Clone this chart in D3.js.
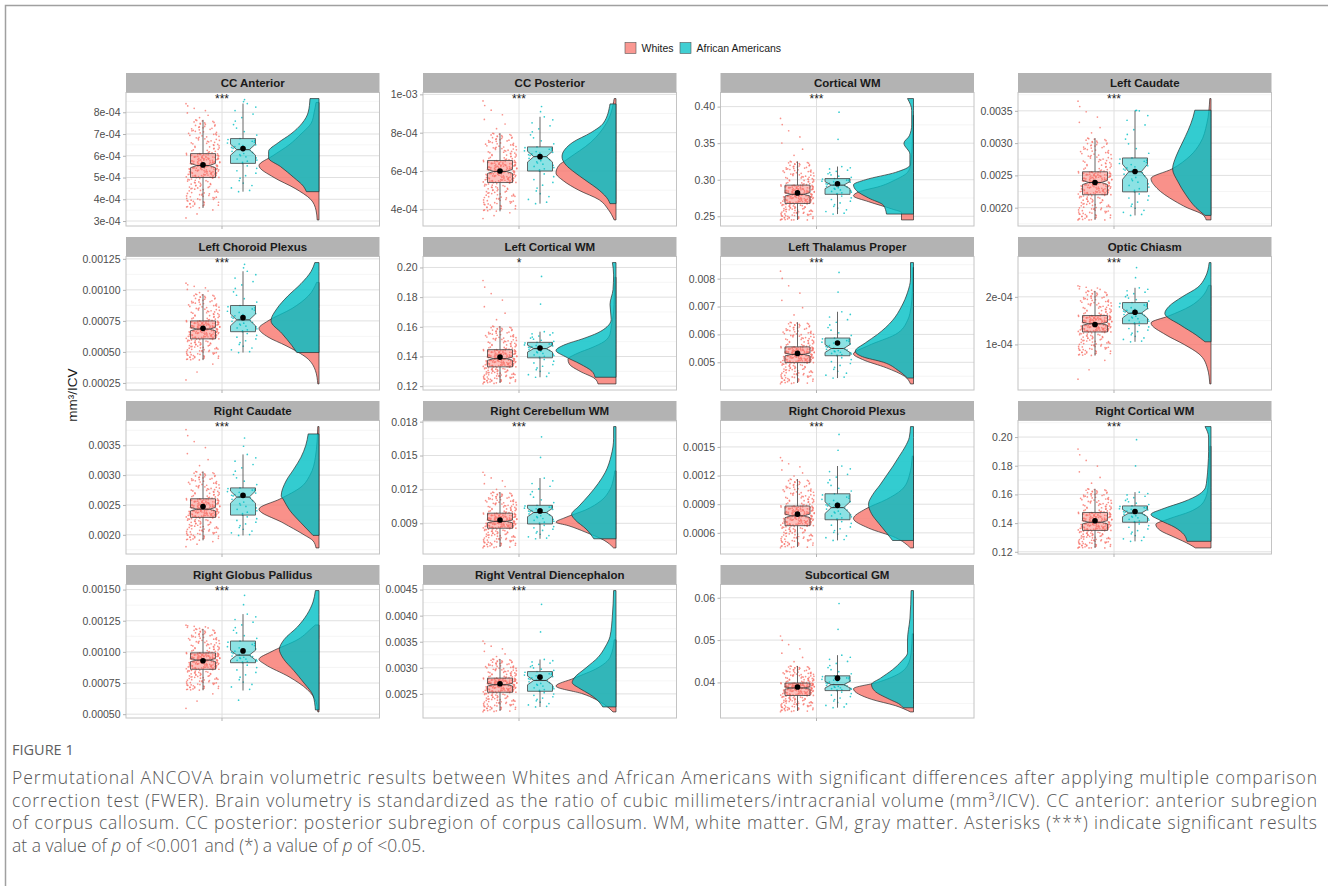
<!DOCTYPE html>
<html>
<head>
<meta charset="utf-8">
<script src="https://cdn.jsdelivr.net/npm/d3@7"></script>
<style>
  body { margin: 0; background: #fff; }
  svg { display: block; font-family: "Liberation Sans", Arial, sans-serif; }
</style>
</head>
<body>
<svg id="fig" width="1328" height="886"></svg>
<script>
// ---- data ----
var regions = ["CC Anterior", "CC Posterior", "Cortical WM", "Left Caudate",
  "Left Choroid Plexus", "Left Cortical WM", "Left Thalamus Proper", "Optic Chiasm",
  "Right Caudate", "Right Cerebellum WM", "Right Choroid Plexus", "Right Cortical WM",
  "Right Globus Pallidus", "Right Ventral Diencephalon", "Subcortical GM"];

var stars = ["***", "***", "***", "***", "***", "*", "***", "***",
  "***", "***", "***", "***", "***", "***", "***"];

var tickLabels = [
  ["3e-04", "4e-04", "5e-04", "6e-04", "7e-04", "8e-04"],
  ["4e-04", "6e-04", "8e-04", "1e-03"],
  ["0.25", "0.30", "0.35", "0.40"],
  ["0.0020", "0.0025", "0.0030", "0.0035"],
  ["0.00025", "0.00050", "0.00075", "0.00100", "0.00125"],
  ["0.12", "0.14", "0.16", "0.18", "0.20"],
  ["0.005", "0.006", "0.007", "0.008"],
  ["1e-04", "2e-04"],
  ["0.0020", "0.0025", "0.0030", "0.0035"],
  ["0.009", "0.012", "0.015", "0.018"],
  ["0.0006", "0.0009", "0.0012", "0.0015"],
  ["0.12", "0.14", "0.16", "0.18", "0.20"],
  ["0.00050", "0.00075", "0.00100", "0.00125", "0.00150"],
  ["0.0025", "0.0030", "0.0035", "0.0040", "0.0045"],
  ["0.04", "0.05", "0.06"]
];

var groups = ["Whites", "African Americans"];
var groupN = [300, 50];

// [lower whisker, Q1, median, Q3, upper whisker, mean, min, max]
var whitesStats = [
  [3.6e-4, 5.0e-4, 5.55e-4, 6.1e-4, 7.65e-4, 5.58e-4, 3.05e-4, 8.45e-4],
  [3.9e-4, 5.4e-4, 5.98e-4, 6.55e-4, 7.97e-4, 6.0e-4, 3.45e-4, 9.78e-4],
  [0.245, 0.2675, 0.280, 0.2926, 0.325, 0.282, 0.245, 0.388],
  [0.00181, 0.0022, 0.00239, 0.002556, 0.003077, 0.00239, 0.00181, 0.00369],
  [0.000434, 0.000605, 0.000684, 0.00075, 0.000966, 0.00069, 0.000242, 0.00106],
  [0.1222, 0.133, 0.1385, 0.1446, 0.1604, 0.1396, 0.1215, 0.1934],
  [0.004259, 0.004988, 0.005282, 0.005553, 0.006435, 0.005318, 0.004224, 0.0084],
  [0.765e-4, 1.262e-4, 1.434e-4, 1.607e-4, 2.124e-4, 1.42e-4, 0.17e-4, 2.24e-4],
  [0.001907, 0.002291, 0.002429, 0.002604, 0.00306, 0.002473, 0.00178, 0.003813],
  [0.006906, 0.008562, 0.009172, 0.009897, 0.011756, 0.009288, 0.00682, 0.013644],
  [0.000452, 0.000675, 0.000778, 0.000881, 0.001163, 0.000796, 0.000442, 0.001404],
  [0.1227, 0.1349, 0.1406, 0.1474, 0.1639, 0.1417, 0.1227, 0.1936],
  [0.000692, 0.00086, 0.000934, 0.000992, 0.001184, 0.000929, 0.000518, 0.001216],
  [0.002173, 0.002531, 0.002676, 0.002802, 0.003167, 0.002695, 0.002154, 0.003538],
  [0.03326, 0.0369, 0.03868, 0.03984, 0.04388, 0.03891, 0.03302, 0.05147]
];

var aaStats = [
  [4.35e-4, 5.65e-4, 6.28e-4, 6.79e-4, 8.4e-4, 6.33e-4, 4.35e-4, 8.63e-4],
  [4.3e-4, 6.0e-4, 6.75e-4, 7.26e-4, 8.83e-4, 6.75e-4, 4.3e-4, 9.5e-4],
  [0.253, 0.280, 0.2926, 0.3016, 0.318, 0.2944, 0.253, 0.411],
  [0.00188, 0.002245, 0.002556, 0.00277, 0.0035, 0.00256, 0.00188, 0.00351],
  [0.000495, 0.000663, 0.000758, 0.000874, 0.00115, 0.000776, 0.000495, 0.00122],
  [0.126, 0.1391, 0.1453, 0.1495, 0.1567, 0.1457, 0.126, 0.2033],
  [0.004435, 0.005235, 0.005494, 0.00587, 0.006812, 0.005694, 0.004435, 0.008576],
  [1.055e-4, 1.434e-4, 1.655e-4, 1.88e-4, 2.19e-4, 1.676e-4, 1.055e-4, 2.72e-4],
  [0.001989, 0.00233, 0.002632, 0.002786, 0.003346, 0.00266, 0.00199, 0.00369],
  [0.007632, 0.008939, 0.009955, 0.010594, 0.013005, 0.0101, 0.00763, 0.017564],
  [0.000521, 0.000737, 0.000864, 0.001009, 0.0013, 0.000888, 0.00052, 0.001713],
  [0.1273, 0.1406, 0.147, 0.152, 0.1616, 0.1481, 0.1273, 0.2073],
  [0.00069, 0.000913, 0.000974, 0.001087, 0.001303, 0.001008, 0.000534, 0.001492],
  [0.002249, 0.00255, 0.002758, 0.002928, 0.00316, 0.002821, 0.00225, 0.004481],
  [0.03403, 0.03806, 0.03946, 0.04155, 0.04643, 0.0410, 0.034, 0.0617]
];

// half-violin density knots: [value, relative density]
var whitesDensity = [
  [[3.05e-4,.03],[3.5e-4,.05],[4.0e-4,.14],[4.5e-4,.4],[5.0e-4,.75],[5.55e-4,1],[6.0e-4,.77],[6.5e-4,.5],[7.0e-4,.3],[7.5e-4,.13],[8.0e-4,.08],[8.45e-4,.05]],
  [[3.45e-4,.03],[4.0e-4,.13],[4.5e-4,.28],[5.0e-4,.62],[5.5e-4,.88],[5.9e-4,1],[6.3e-4,.95],[6.6e-4,.82],[7.5e-4,.42],[8.5e-4,.16],[9.78e-4,.03]],
  [[0.245,.2],[0.255,.2],[0.26,.36],[0.27,.75],[0.278,1],[0.285,.85],[0.29,.6],[0.3,.3],[0.31,.1],[0.32,.05],[0.35,.02],[0.388,.01]],
  [[0.00181,.08],[0.0019,.15],[0.002,.4],[0.0021,.6],[0.0023,.9],[0.00245,1],[0.0026,.65],[0.0028,.35],[0.003,.18],[0.0033,.07],[0.00369,.02]],
  [[0.000242,.02],[0.00035,.06],[0.00045,.2],[0.00055,.55],[0.00062,.85],[0.00069,1],[0.00075,.85],[0.00085,.45],[0.00095,.18],[0.00106,.04]],
  [[0.1215,.3],[0.125,.35],[0.13,.6],[0.135,.78],[0.138,.8],[0.142,.65],[0.146,.4],[0.15,.2],[0.155,.1],[0.16,.08],[0.17,.04],[0.18,.03],[0.1934,.02]],
  [[0.004224,.05],[0.0045,.15],[0.0048,.45],[0.0051,.85],[0.0053,1],[0.0056,.75],[0.006,.3],[0.0065,.1],[0.007,.04],[0.0075,.02],[0.0084,.01]],
  [[0.17e-4,.02],[0.5e-4,.06],[0.8e-4,.2],[1.0e-4,.45],[1.2e-4,.75],[1.45e-4,1],[1.6e-4,.7],[1.8e-4,.35],[2.0e-4,.15],[2.24e-4,.04]],
  [[0.00178,.05],[0.0019,.1],[0.002,.25],[0.0022,.6],[0.00243,1],[0.0026,.65],[0.0028,.3],[0.003,.15],[0.0033,.06],[0.003813,.02]],
  [[0.00682,.04],[0.0075,.2],[0.0082,.5],[0.0088,.8],[0.0091,1],[0.0095,.85],[0.0102,.5],[0.011,.25],[0.012,.1],[0.013,.04],[0.013644,.02]],
  [[0.000442,.05],[0.00055,.3],[0.00065,.75],[0.00075,1],[0.00085,.8],[0.00095,.45],[0.00105,.2],[0.0012,.07],[0.001404,.02]],
  [[0.1227,.26],[0.125,.35],[0.13,.6],[0.135,.85],[0.139,.92],[0.143,.7],[0.148,.35],[0.155,.12],[0.165,.05],[0.18,.03],[0.1936,.02]],
  [[0.000518,.02],[0.0006,.05],[0.0007,.2],[0.0008,.5],[0.0009,.9],[0.00094,1],[0.001,.8],[0.0011,.35],[0.0012,.1],[0.001216,.06]],
  [[0.002154,.05],[0.0023,.2],[0.0025,.55],[0.00265,1],[0.0028,.7],[0.003,.3],[0.0032,.1],[0.003538,.03]],
  [[0.03302,.05],[0.0345,.3],[0.036,.7],[0.0385,1],[0.04,.6],[0.042,.25],[0.044,.1],[0.047,.04],[0.05147,.02]]
];

var aaDensity = [
  [[4.35e-4,.21],[4.6e-4,.26],[5.0e-4,.42],[5.5e-4,.64],[5.9e-4,.84],[6.2e-4,.84],[6.6e-4,.68],[7.0e-4,.47],[7.5e-4,.28],[8.0e-4,.18],[8.63e-4,.15]],
  [[4.3e-4,.1],[4.5e-4,.13],[5.0e-4,.28],[5.5e-4,.5],[6.0e-4,.72],[6.3e-4,.83],[6.75e-4,.9],[7.5e-4,.72],[8.0e-4,.42],[8.5e-4,.21],[9.5e-4,.1]],
  [[0.253,.45],[0.265,.5],[0.275,.75],[0.285,.95],[0.293,1],[0.3,.8],[0.31,.3],[0.32,.06],[0.335,.06],[0.35,.16],[0.36,.07],[0.375,.03],[0.395,.03],[0.411,.1]],
  [[0.00188,.1],[0.002,.25],[0.0022,.42],[0.0024,.55],[0.0026,.64],[0.0028,.58],[0.003,.48],[0.0032,.38],[0.0034,.3],[0.00351,.27]],
  [[0.000495,.37],[0.00055,.45],[0.00065,.62],[0.00075,.8],[0.00085,.7],[0.00095,.52],[0.00105,.3],[0.00115,.13],[0.00122,.07]],
  [[0.126,.35],[0.13,.4],[0.135,.6],[0.14,.85],[0.144,1],[0.148,.85],[0.152,.55],[0.156,.3],[0.16,.15],[0.165,.08],[0.175,.1],[0.185,.05],[0.195,.04],[0.2033,.06]],
  [[0.004435,.1],[0.0047,.25],[0.005,.5],[0.0052,.85],[0.0054,.97],[0.0057,.8],[0.006,.6],[0.0065,.35],[0.007,.2],[0.0075,.1],[0.008,.05],[0.008576,.05]],
  [[1.055e-4,.1],[1.2e-4,.25],[1.4e-4,.5],[1.65e-4,.77],[1.8e-4,.7],[2.0e-4,.48],[2.2e-4,.22],[2.4e-4,.1],[2.72e-4,.03]],
  [[0.00199,.1],[0.0022,.3],[0.0024,.48],[0.0026,.6],[0.00265,.63],[0.0029,.55],[0.0031,.42],[0.0033,.3],[0.0035,.22],[0.00369,.18]],
  [[0.00763,.37],[0.0085,.5],[0.0093,.68],[0.0098,.74],[0.0105,.62],[0.0115,.45],[0.0125,.3],[0.0135,.18],[0.015,.08],[0.0165,.04],[0.017564,.04]],
  [[0.00052,.35],[0.0006,.45],[0.0007,.58],[0.0008,.7],[0.0009,.75],[0.001,.68],[0.0011,.56],[0.0012,.45],[0.0013,.34],[0.0014,.24],[0.0015,.14],[0.0016,.07],[0.001713,.05]],
  [[0.1273,.4],[0.132,.45],[0.137,.6],[0.142,.85],[0.146,1],[0.15,.8],[0.155,.45],[0.16,.2],[0.165,.09],[0.17,.07],[0.18,.05],[0.19,.04],[0.2,.04],[0.2073,.1]],
  [[0.000534,.06],[0.00065,.1],[0.00075,.25],[0.00085,.42],[0.00095,.6],[0.00102,.66],[0.0011,.58],[0.0012,.36],[0.0013,.2],[0.0014,.1],[0.001492,.06]],
  [[0.00225,.22],[0.0024,.33],[0.0025,.45],[0.0026,.6],[0.00272,.73],[0.0028,.7],[0.003,.5],[0.0032,.3],[0.0034,.18],[0.0036,.1],[0.004,.06],[0.004481,.04]],
  [[0.034,.17],[0.035,.25],[0.036,.4],[0.038,.65],[0.0395,.7],[0.041,.55],[0.043,.35],[0.045,.2],[0.047,.1],[0.05,.1],[0.055,.06],[0.0617,.04]]
];

var captionLines = [
  "Permutational ANCOVA brain volumetric results between Whites and African Americans with significant differences after applying multiple comparison",
  "correction test (FWER). Brain volumetry is standardized as the ratio of cubic millimeters/intracranial volume (mm\u00B3/ICV). CC anterior: anterior subregion",
  "of corpus callosum. CC posterior: posterior subregion of corpus callosum. WM, white matter. GM, gray matter. Asterisks (***) indicate significant results"
];

// ---- layout ----
var colX = [126, 423, 720.5, 1018],
    rowY = [73, 237, 401, 565],
    panelW = 253.5,
    stripH = 19.5,
    plotH = 133.5;

var fills = ["#F8766D", "#00BFC4"];
var boxW = 25, violinW = 60, jitterW = 34;

var svg = d3.select("#fig");
svg.append("rect").attr("width", 1328).attr("height", 886).attr("fill", "#fff");
svg.append("rect")
    .attr("x", 5.5).attr("y", 5.5).attr("width", 1340).attr("height", 900)
    .attr("fill", "none").attr("stroke", "#a0a0a0").attr("stroke-width", 1.5);

// legend
var legend = svg.append("g").attr("transform", "translate(625,42.5)");
var legX = [0, 55];
groups.forEach(function(g, k) {
  legend.append("rect")
      .attr("x", legX[k]).attr("y", 0).attr("width", 11).attr("height", 11)
      .attr("fill", fills[k]).attr("fill-opacity", 0.75)
      .attr("stroke", "#555").attr("stroke-width", 0.6);
  legend.append("text")
      .attr("x", legX[k] + 16.5).attr("y", 9.3)
      .style("font-size", "10.5px").style("fill", "#1a1a1a")
      .text(g);
});

// y title
svg.append("text")
    .attr("transform", "translate(77,395)rotate(-90)")
    .style("text-anchor", "middle").style("font-size", "13.5px").style("fill", "#1a1a1a")
    .text("mm\u00B3/ICV");

// quantile-spaced points from the box summary; jitter is a fixed low-discrepancy sequence
function groupPoints(s, n, k) {
  var q = d3.scaleLinear()
      .domain([0, k ? 0.02 : 0.01, 0.25, 0.5, 0.75, k ? 0.95 : 0.975, 1])
      .range([s[6], s[0], s[1], s[2], s[3], s[4], s[7]]);
  return d3.range(n).map(function(i) {
    var j = (i * 0.7548776662 + i * i * 0.5698402910 + 0.37 * k) % 1;
    return { v: q((i + 0.5) / n), j: j - 0.5 };
  });
}

function boxPath(s, n, cx, y) {
  var hw = boxW / 2, inset = boxW / 4;
  var nd = 1.58 * (s[3] - s[1]) / Math.sqrt(n);
  var L = cx - hw, R = cx + hw;
  var pts = [[L, y(s[3])], [L, y(s[2] + nd)], [L + inset, y(s[2])], [L, y(s[2] - nd)], [L, y(s[1])],
             [R, y(s[1])], [R, y(s[2] - nd)], [R - inset, y(s[2])], [R, y(s[2] + nd)], [R, y(s[3])]];
  return d3.line()(pts) + "Z";
}

regions.forEach(function(name, i) {
  var left = colX[i % 4], top = rowY[Math.floor(i / 4)];
  var pTop = top + stripH, pBot = pTop + plotH;
  var stats = [whitesStats[i], aaStats[i]];
  var dens = [whitesDensity[i], aaDensity[i]];

  var lo = Math.min(stats[0][6], stats[1][6]), hi = Math.max(stats[0][7], stats[1][7]);
  var pad = (hi - lo) * 0.05;
  var y = d3.scaleLinear().domain([lo - pad, hi + pad]).range([pBot, pTop]);

  var gridX = left + 96, cxs = [left + 77, left + 117], base = left + 193;
  var g = svg.append("g");

  // grid
  var ticks = tickLabels[i].map(function(t) { return +t; });
  var step = ticks[1] - ticks[0];
  var minors = [];
  for (var m = ticks[0] - step / 2; m <= hi + pad; m += step) {
    if (m >= lo - pad) minors.push(m);
  }
  g.selectAll(".minor").data(minors).enter().append("line")
      .attr("x1", left).attr("x2", left + panelW)
      .attr("y1", function(d) { return y(d); }).attr("y2", function(d) { return y(d); })
      .attr("stroke", "#efefef").attr("stroke-width", 0.6);
  g.selectAll(".major").data(ticks).enter().append("line")
      .attr("x1", left).attr("x2", left + panelW)
      .attr("y1", function(d) { return y(d); }).attr("y2", function(d) { return y(d); })
      .attr("stroke", "#e0e0e0").attr("stroke-width", 1);
  g.append("line")
      .attr("x1", gridX).attr("x2", gridX).attr("y1", pTop).attr("y2", pBot)
      .attr("stroke", "#e0e0e0").attr("stroke-width", 1);

  // half violins
  dens.forEach(function(d, k) {
    var pts = d.slice().sort(function(a, b) { return b[0] - a[0]; });
    var area = d3.area().curve(d3.curveMonotoneY)
        .y(function(p) { return y(p[0]); })
        .x0(function(p) { return base - violinW * p[1]; })
        .x1(base);
    g.append("path").attr("d", area(pts))
        .attr("fill", fills[k]).attr("fill-opacity", 0.8)
        .attr("stroke", "#2b2b2b").attr("stroke-width", 0.7);
  });

  // jittered points
  stats.forEach(function(s, k) {
    g.selectAll(".pt" + k).data(groupPoints(s, groupN[k], k)).enter().append("circle")
        .attr("cx", function(p) { return cxs[k] + p.j * jitterW; })
        .attr("cy", function(p) { return y(p.v); })
        .attr("r", 0.85)
        .attr("fill", fills[k]).attr("fill-opacity", 0.8);
  });

  // notched boxes
  stats.forEach(function(s, k) {
    var cx = cxs[k];
    g.append("line").attr("x1", cx).attr("x2", cx).attr("y1", y(s[0])).attr("y2", y(s[1]))
        .attr("stroke", "#555").attr("stroke-width", 0.9);
    g.append("line").attr("x1", cx).attr("x2", cx).attr("y1", y(s[3])).attr("y2", y(s[4]))
        .attr("stroke", "#555").attr("stroke-width", 0.9);
    g.append("path").attr("d", boxPath(s, groupN[k], cx, y))
        .attr("fill", fills[k]).attr("fill-opacity", 0.45)
        .attr("stroke", "#444").attr("stroke-width", 0.8);
    g.append("line")
        .attr("x1", cx - boxW / 4).attr("x2", cx + boxW / 4)
        .attr("y1", y(s[2])).attr("y2", y(s[2]))
        .attr("stroke", "#333").attr("stroke-width", 1);
    g.append("circle").attr("cx", cx).attr("cy", y(s[5])).attr("r", 2.8).attr("fill", "#000");
  });

  // significance
  g.append("text")
      .attr("x", gridX).attr("y", pTop + 10)
      .style("text-anchor", "middle").style("font-size", "12px").style("fill", "#1a1a1a")
      .text(stars[i]);

  // panel border, strip
  g.append("rect")
      .attr("x", left).attr("y", pTop).attr("width", panelW).attr("height", plotH)
      .attr("fill", "none").attr("stroke", "#c4c4c4").attr("stroke-width", 1);
  g.append("rect")
      .attr("x", left).attr("y", top).attr("width", panelW).attr("height", stripH)
      .attr("fill", "#b3b3b3");
  g.append("text")
      .attr("x", left + panelW / 2).attr("y", top + stripH / 2 + 4)
      .style("text-anchor", "middle").style("font-size", "11.5px").style("font-weight", "bold")
      .style("fill", "#1a1a1a")
      .text(name);

  // y axis
  var ax = g.append("g").attr("transform", "translate(" + left + ",0)")
      .call(d3.axisLeft(y).tickValues(ticks).tickSize(3)
        .tickFormat(function(d, j) { return tickLabels[i][j]; }));
  ax.select(".domain").remove();
  ax.selectAll("line").attr("stroke", "#b3b3b3");
  ax.selectAll("text").style("font-size", "10.5px").style("fill", "#4d4d4d")
      .style("font-family", "Liberation Sans, Arial, sans-serif").attr("x", -5.5);

  // x tick
  g.append("line").attr("x1", gridX).attr("x2", gridX).attr("y1", pBot).attr("y2", pBot + 3)
      .attr("stroke", "#b3b3b3");
});

// caption
var cap = svg.append("g").style("font-family", "'Open Sans', 'Noto Sans', sans-serif");
cap.append("text").attr("x", 12).attr("y", 755)
    .style("font-size", "14.5px").style("fill", "#606060").text("FIGURE 1");
captionLines.forEach(function(line, k) {
  cap.append("text")
      .attr("x", 12).attr("y", 784 + k * 22.6)
      .attr("textLength", 1305).attr("lengthAdjust", "spacing")
      .style("font-size", "17.5px").style("font-weight", 300).style("fill", "#555")
      .text(line);
});
var last = cap.append("text").attr("x", 12).attr("y", 784 + 3 * 22.6)
    .style("font-size", "17.5px").style("font-weight", 300).style("fill", "#555");
last.append("tspan").text("at a value of ");
last.append("tspan").style("font-style", "italic").text("p");
last.append("tspan").text(" of <0.001 and (*) a value of ");
last.append("tspan").style("font-style", "italic").text("p");
last.append("tspan").text(" of <0.05.");
</script>
</body>
</html>
